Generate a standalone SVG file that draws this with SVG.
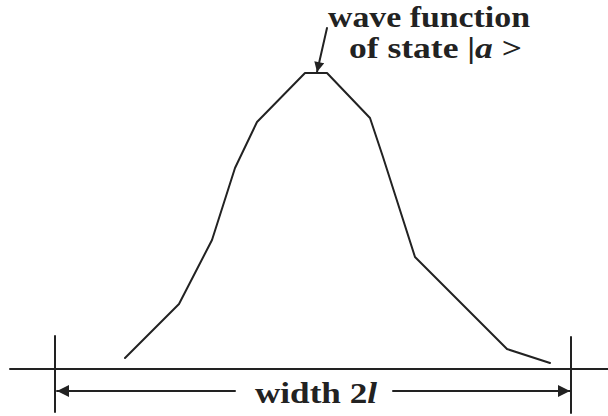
<svg xmlns="http://www.w3.org/2000/svg" width="608" height="416" viewBox="0 0 608 416">
  <style>
    .ln { fill: none; stroke: #222; stroke-width: 2; stroke-linejoin: round; stroke-linecap: round; }
    .tx { font-family: "Liberation Serif", "DejaVu Serif", serif; font-weight: bold; font-size: 30px; fill: #222; }
    .it { font-style: italic; }
  </style>
  <defs>
    <marker id="ah" viewBox="0 0 10 10" refX="10" refY="5" markerWidth="16" markerHeight="12" markerUnits="userSpaceOnUse" orient="auto-start-reverse">
      <path d="M0,0 L10,5 L0,10 Z" fill="#222"/>
    </marker>
    <marker id="ah2" viewBox="0 0 10 10" refX="10" refY="5" markerWidth="13" markerHeight="10" markerUnits="userSpaceOnUse" orient="auto">
      <path d="M0,0 L10,5 L0,10 Z" fill="#222"/>
    </marker>
  </defs>
  <rect width="608" height="416" fill="#fff"/>
  <g id="axis">
    <line class="ln" x1="10" y1="369" x2="608" y2="369" stroke-width="1.6"/>
    <line class="ln" x1="55" y1="336" x2="55" y2="412" stroke-width="1.6"/>
    <line class="ln" x1="571" y1="337" x2="571" y2="413" stroke-width="1.6"/>
  </g>
  <g id="curve">
    <polyline class="ln" points="125,358 179,304 212,240 235,168 257,122 305,73 327,73 370,118 383,157 415,257 507,349 550,363"/>
  </g>
  <g id="connectors">
    <line class="ln" x1="235" y1="391" x2="57" y2="391" stroke-width="1.6" marker-end="url(#ah)"/>
    <line class="ln" x1="393" y1="391" x2="570" y2="391" stroke-width="1.6" marker-end="url(#ah)"/>
    <line class="ln" x1="327" y1="28" x2="317" y2="72" stroke-width="1.8" marker-end="url(#ah2)"/>
  </g>
  <g id="label-top">
    <text class="tx" x="328" y="27" textLength="202" lengthAdjust="spacingAndGlyphs">wave function</text>
    <text class="tx" x="349" y="58" textLength="173" lengthAdjust="spacingAndGlyphs">of state |<tspan class="it">a</tspan> &gt;</text>
  </g>
  <g id="label-width">
    <text class="tx" x="255" y="403" font-size="31" textLength="122" lengthAdjust="spacingAndGlyphs">width 2<tspan class="it">l</tspan></text>
  </g>
</svg>
